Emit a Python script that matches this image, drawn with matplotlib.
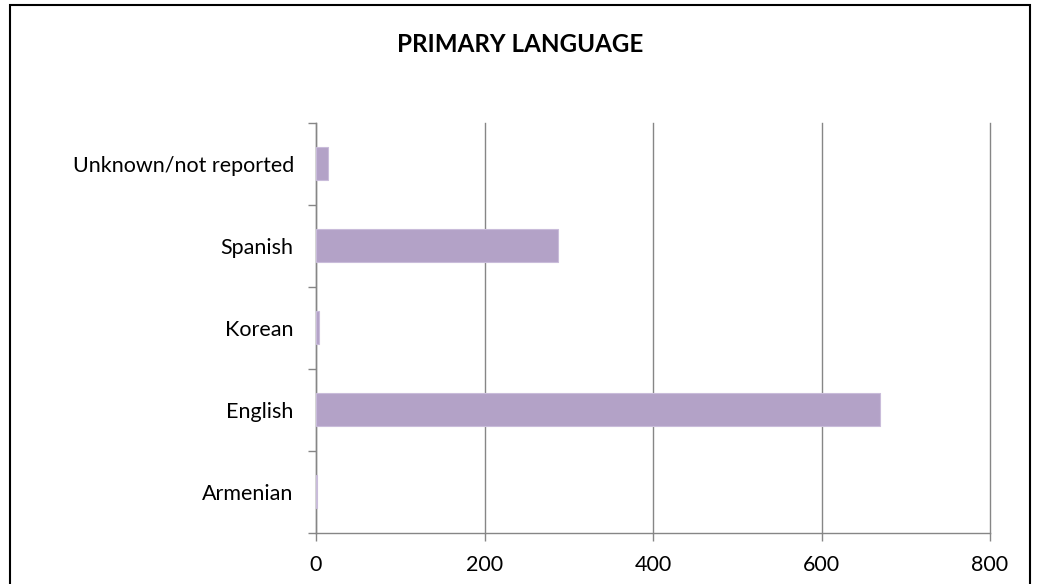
import matplotlib
matplotlib.use("Agg")
import matplotlib.pyplot as plt
from matplotlib.patches import Rectangle

categories = ["Armenian", "English", "Korean", "Spanish", "Unknown/not reported"]
values = [1.5, 670, 4, 287, 14]
x_ticks = [0, 200, 400, 600, 800]
title = "PRIMARY LANGUAGE"

plt.rcParams['font.family'] = ['Lato', 'DejaVu Sans']

W, H = 1039, 584
fig = plt.figure(figsize=(W / 100, H / 100), dpi=100)
ax = fig.add_axes([316 / W, 1 - 532.5 / H, (990 - 316) / W, (532.5 - 122.5) / H])

pos = list(range(len(categories)))
ax.barh(pos, values, height=0.4, color="#B3A2C7", edgecolor="#C9BCDA", linewidth=0.8, zorder=3)

ax.set_xlim(0, 800)
ax.set_ylim(-0.5, len(categories) - 0.5)
ax.set_xticks(x_ticks)
ax.set_xticklabels([str(v) for v in x_ticks])
ax.set_yticks(pos)
ax.set_yticklabels(categories)
ax.set_yticks([p - 0.5 for p in pos] + [len(categories) - 0.5], minor=True)

ax.grid(axis="x", color="#868686", linewidth=1.0, zorder=0)
for gl in ax.get_xgridlines():
    gl.set_clip_on(False)
for s in ["top", "right"]:
    ax.spines[s].set_visible(False)
for s in ["left", "bottom"]:
    ax.spines[s].set_color("#868686")
    ax.spines[s].set_linewidth(1.0)

ax.tick_params(axis="y", which="major", length=0, pad=16, labelsize=15.5)
ax.tick_params(axis="y", which="minor", length=6, color="#868686", width=1)
ax.tick_params(axis="x", which="major", length=6, color="#868686", width=1, pad=10, labelsize=15.5)

fig.text(520 / W, 1 - 44 / H, title, ha="center", va="center", fontsize=17.4, fontweight="bold")

fig.patches.append(Rectangle((9.5 / W, -0.05), (1030 - 9.5) / W, (1 - 4.5 / H) + 0.05,
                             transform=fig.transFigure, fill=False, edgecolor="black",
                             linewidth=1.5, zorder=10))

fig.savefig("out.png", dpi=100)
